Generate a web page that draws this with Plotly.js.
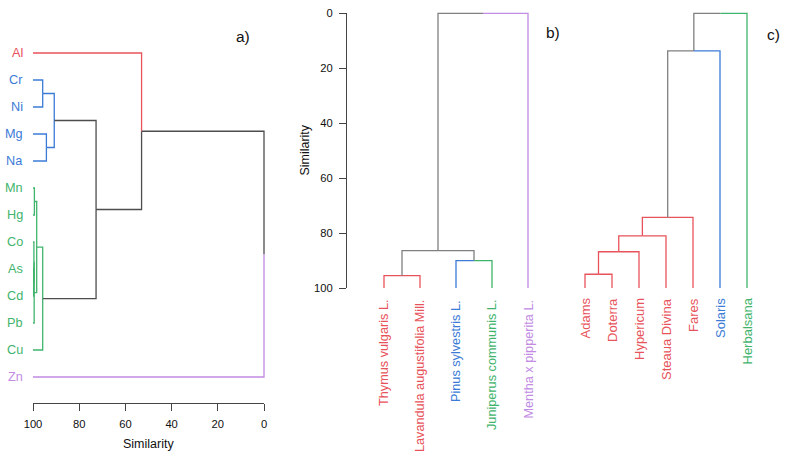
<!DOCTYPE html>
<html><head><meta charset="utf-8">
<script src="https://cdn.plot.ly/plotly-3.0.1.min.js"></script>
<style>html,body{margin:0;padding:0;background:#fff}</style>
</head><body><div id="chart" style="width:788px;height:459px"></div>
<script>
// ---------- Panel a) elements ----------
const elementLabels = ["Al","Cr","Ni","Mg","Na","Mn","Hg","Co","As","Cd","Pb","Cu","Zn"];
const elementGroups = [0,1,1,1,1,2,2,2,2,2,2,2,3];
const elementMerges = [["L1","L2"],["L3","L4"],["N0","N1"],["L8","L9"],["L7","N3"],["N4","L10"],["L5","L6"],["N6","N5"],["N7","L11"],["N2","N8"],["L0","N9"],["N10","L12"]];
const elementHeights = [95.8,94.2,90.8,99.7,99.6,99.5,99.4,98.4,95.8,72.7,53.0,0];

// ---------- Panel b) plants ----------
const plantLabels = ["Thymus vulgaris L.","Lavandula augustifolia Mill.","Pinus sylvestris L.","Juniperus communis L.","Mentha x pipperita L."];
const plantGroups = [0,0,1,2,3];
const plantMerges = [["L0","L1"],["L2","L3"],["N0","N1"],["N2","L4"]];
const plantHeights = [95.5,90.0,86.4,0];

// ---------- Panel c) products ----------
const productLabels = ["Adams","Doterra","Hypericum","Steaua Divina","Fares","Solaris","Herbalsana"];
const productGroups = [0,0,0,0,0,1,2];
const productMerges = [["L0","L1"],["N0","L2"],["N1","L3"],["N2","L4"],["N3","L5"],["N4","L6"]];
const productHeights = [95.0,86.8,81.0,74.3,13.7,0];

const similarityTicks = [0,20,40,60,80,100];
const panelTags = ["a)","b)","c)"];

const RED="#e8535b", BLUE="#3b7bd6", GREEN="#3fb46c", PURPLE="#c28be4";
const GRAY_A="#4d4d4d", GRAY_B="#808080";
const FONT="Liberation Sans, Arial, sans-serif";

function dendro(labels, groups, merges, heights, palette, gray, horizontal, xa, ya){
  const nodes=[];
  const segs={};
  function info(ref){
    const k=+ref.slice(1);
    if(ref[0]==="L") return {pos:k,h:100,color:palette[groups[k]],leaf:true};
    return nodes[k];
  }
  function add(color, pts){
    if(!segs[color]) segs[color]={x:[],y:[]};
    pts.forEach(p=>{
      if(horizontal){segs[color].x.push(p[1]);segs[color].y.push(p[0]);}
      else {segs[color].x.push(p[0]);segs[color].y.push(p[1]);}
    });
    segs[color].x.push(null);segs[color].y.push(null);
  }
  merges.forEach((m,i)=>{
    const a=info(m[0]), b=info(m[1]);
    const h=heights[i];
    const pos=(a.pos+b.pos)/2;
    const col=(a.color===b.color)?a.color:gray;
    [a,b].forEach(c=>{
      const lc = (col!==gray)?col:(c.leaf?c.color:gray);
      add(lc,[[c.pos,c.h],[c.pos,h],[pos,h]]);
    });
    nodes.push({pos:pos,h:h,color:col,leaf:false});
  });
  return Object.keys(segs).map(c=>({type:"scatter",mode:"lines",x:segs[c].x,y:segs[c].y,
    xaxis:xa,yaxis:ya,line:{color:c,width:1.3},hoverinfo:"skip",showlegend:false}));
}

const palA=[RED,BLUE,GREEN,PURPLE];
const palB=[RED,BLUE,GREEN,PURPLE];
const palC=[RED,BLUE,GREEN];

// empty carrier traces so the visible axis subplots are drawn
const axisCarriers=[
  {type:"scatter",mode:"lines",x:[],y:[],xaxis:"x",yaxis:"y",hoverinfo:"skip",showlegend:false},
  {type:"scatter",mode:"lines",x:[],y:[],xaxis:"x2",yaxis:"y2",hoverinfo:"skip",showlegend:false}
];

const traces=[].concat(
  axisCarriers,
  dendro(elementLabels,elementGroups,elementMerges,elementHeights,palA,GRAY_A,true,"x4","y4"),
  dendro(plantLabels,plantGroups,plantMerges,plantHeights,palB,GRAY_B,false,"x5","y5"),
  dendro(productLabels,productGroups,productMerges,productHeights,palC,GRAY_B,false,"x3","y3")
);

const W=788,H=459;
const px=v=>v/W, py=v=>1-v/H;
function xAx(p0,p1,v0,q0,v1,q1){
  const f=p=>v0+(p-q0)*(v1-v0)/(q1-q0);
  return {domain:[px(p0),px(p1)],range:[f(p0),f(p1)]};
}
function yAx(top,bottom,v0,q0,v1,q1){
  const f=p=>v0+(p-q0)*(v1-v0)/(q1-q0);
  return {domain:[py(bottom),py(top)],range:[f(bottom),f(top)]};
}

const annotations=[];
elementLabels.forEach((t,i)=>annotations.push({xref:"x4",yref:"y4",x:100,y:i,text:t,showarrow:false,
  xanchor:"right",yanchor:"middle",xshift:-8,font:{family:FONT,size:12.7,color:palA[elementGroups[i]]}}));
plantLabels.forEach((t,i)=>annotations.push({xref:"x5",yref:"y5",x:i,y:100,text:t,showarrow:false,textangle:-90,
  xanchor:"center",yanchor:"top",yshift:-10,font:{family:FONT,size:12.7,color:palB[plantGroups[i]]}}));
productLabels.forEach((t,i)=>annotations.push({xref:"x3",yref:"y3",x:i,y:100,text:t,showarrow:false,textangle:-90,
  xanchor:"center",yanchor:"top",yshift:-8,font:{family:FONT,size:13,color:palC[productGroups[i]]}}));
annotations.push({xref:"paper",yref:"paper",x:px(243),y:py(37),text:panelTags[0],showarrow:false,xanchor:"center",yanchor:"middle",font:{family:FONT,size:15.5,color:"#111"}});
annotations.push({xref:"paper",yref:"paper",x:px(553),y:py(33),text:panelTags[1],showarrow:false,xanchor:"center",yanchor:"middle",font:{family:FONT,size:15.5,color:"#111"}});
annotations.push({xref:"paper",yref:"paper",x:px(773),y:py(34),text:panelTags[2],showarrow:false,xanchor:"center",yanchor:"middle",font:{family:FONT,size:15.5,color:"#111"}});
annotations.push({xref:"paper",yref:"paper",x:px(148.5),y:py(444),text:"Similarity",showarrow:false,xanchor:"center",yanchor:"middle",font:{family:FONT,size:12.5,color:"#111"}});
annotations.push({xref:"paper",yref:"paper",x:px(305),y:py(150.6),text:"Similarity",showarrow:false,textangle:-90,xanchor:"center",yanchor:"middle",font:{family:FONT,size:12.5,color:"#111"}});

const axisCommon={visible:true,ticks:"outside",ticklen:7,tickwidth:1,tickcolor:"#444",showline:true,linecolor:"#444",linewidth:1,
  showgrid:false,zeroline:false,tickmode:"array",tickvals:similarityTicks,ticklabelstandoff:4,tickfont:{family:FONT,size:11.2,color:"#111"}};
const hidden={visible:false,showgrid:false,zeroline:false};

const aXvis=xAx(33,264,100,33,0,264);
const aXdat=xAx(29,268,100,33,0,264);
const aYvis=yAx(40,403,0,53,1,80);
const aYdat=yAx(36,407,0,53,1,80);
const bX=xAx(347,560,0,384,1,420);
const bYvis=yAx(13.3,288,0,13.3,100,288);
const bYdat=yAx(9,292,0,13.3,100,288);
const cX=xAx(568,782,0,585,1,612);

const layout={
  width:W,height:H,margin:{l:0,r:0,t:0,b:0},paper_bgcolor:"#fff",plot_bgcolor:"rgba(0,0,0,0)",showlegend:false,
  xaxis:Object.assign({},axisCommon,aXvis,{anchor:"y"}),
  yaxis:Object.assign({},hidden,aYvis,{anchor:"x"}),
  xaxis4:Object.assign({},hidden,aXdat,{anchor:"y4"}),
  yaxis4:Object.assign({},hidden,aYdat,{anchor:"x4"}),
  xaxis2:Object.assign({},hidden,bX,{anchor:"y2"}),
  yaxis2:Object.assign({},axisCommon,bYvis,{anchor:"x2"}),
  xaxis5:Object.assign({},hidden,bX,{anchor:"y5"}),
  yaxis5:Object.assign({},hidden,bYdat,{anchor:"x5"}),
  xaxis3:Object.assign({},hidden,cX,{anchor:"y3"}),
  yaxis3:Object.assign({},hidden,bYdat,{anchor:"x3"}),
  annotations:annotations
};
Plotly.newPlot("chart",traces,layout,{staticPlot:true,displayModeBar:false});
</script></body></html>
